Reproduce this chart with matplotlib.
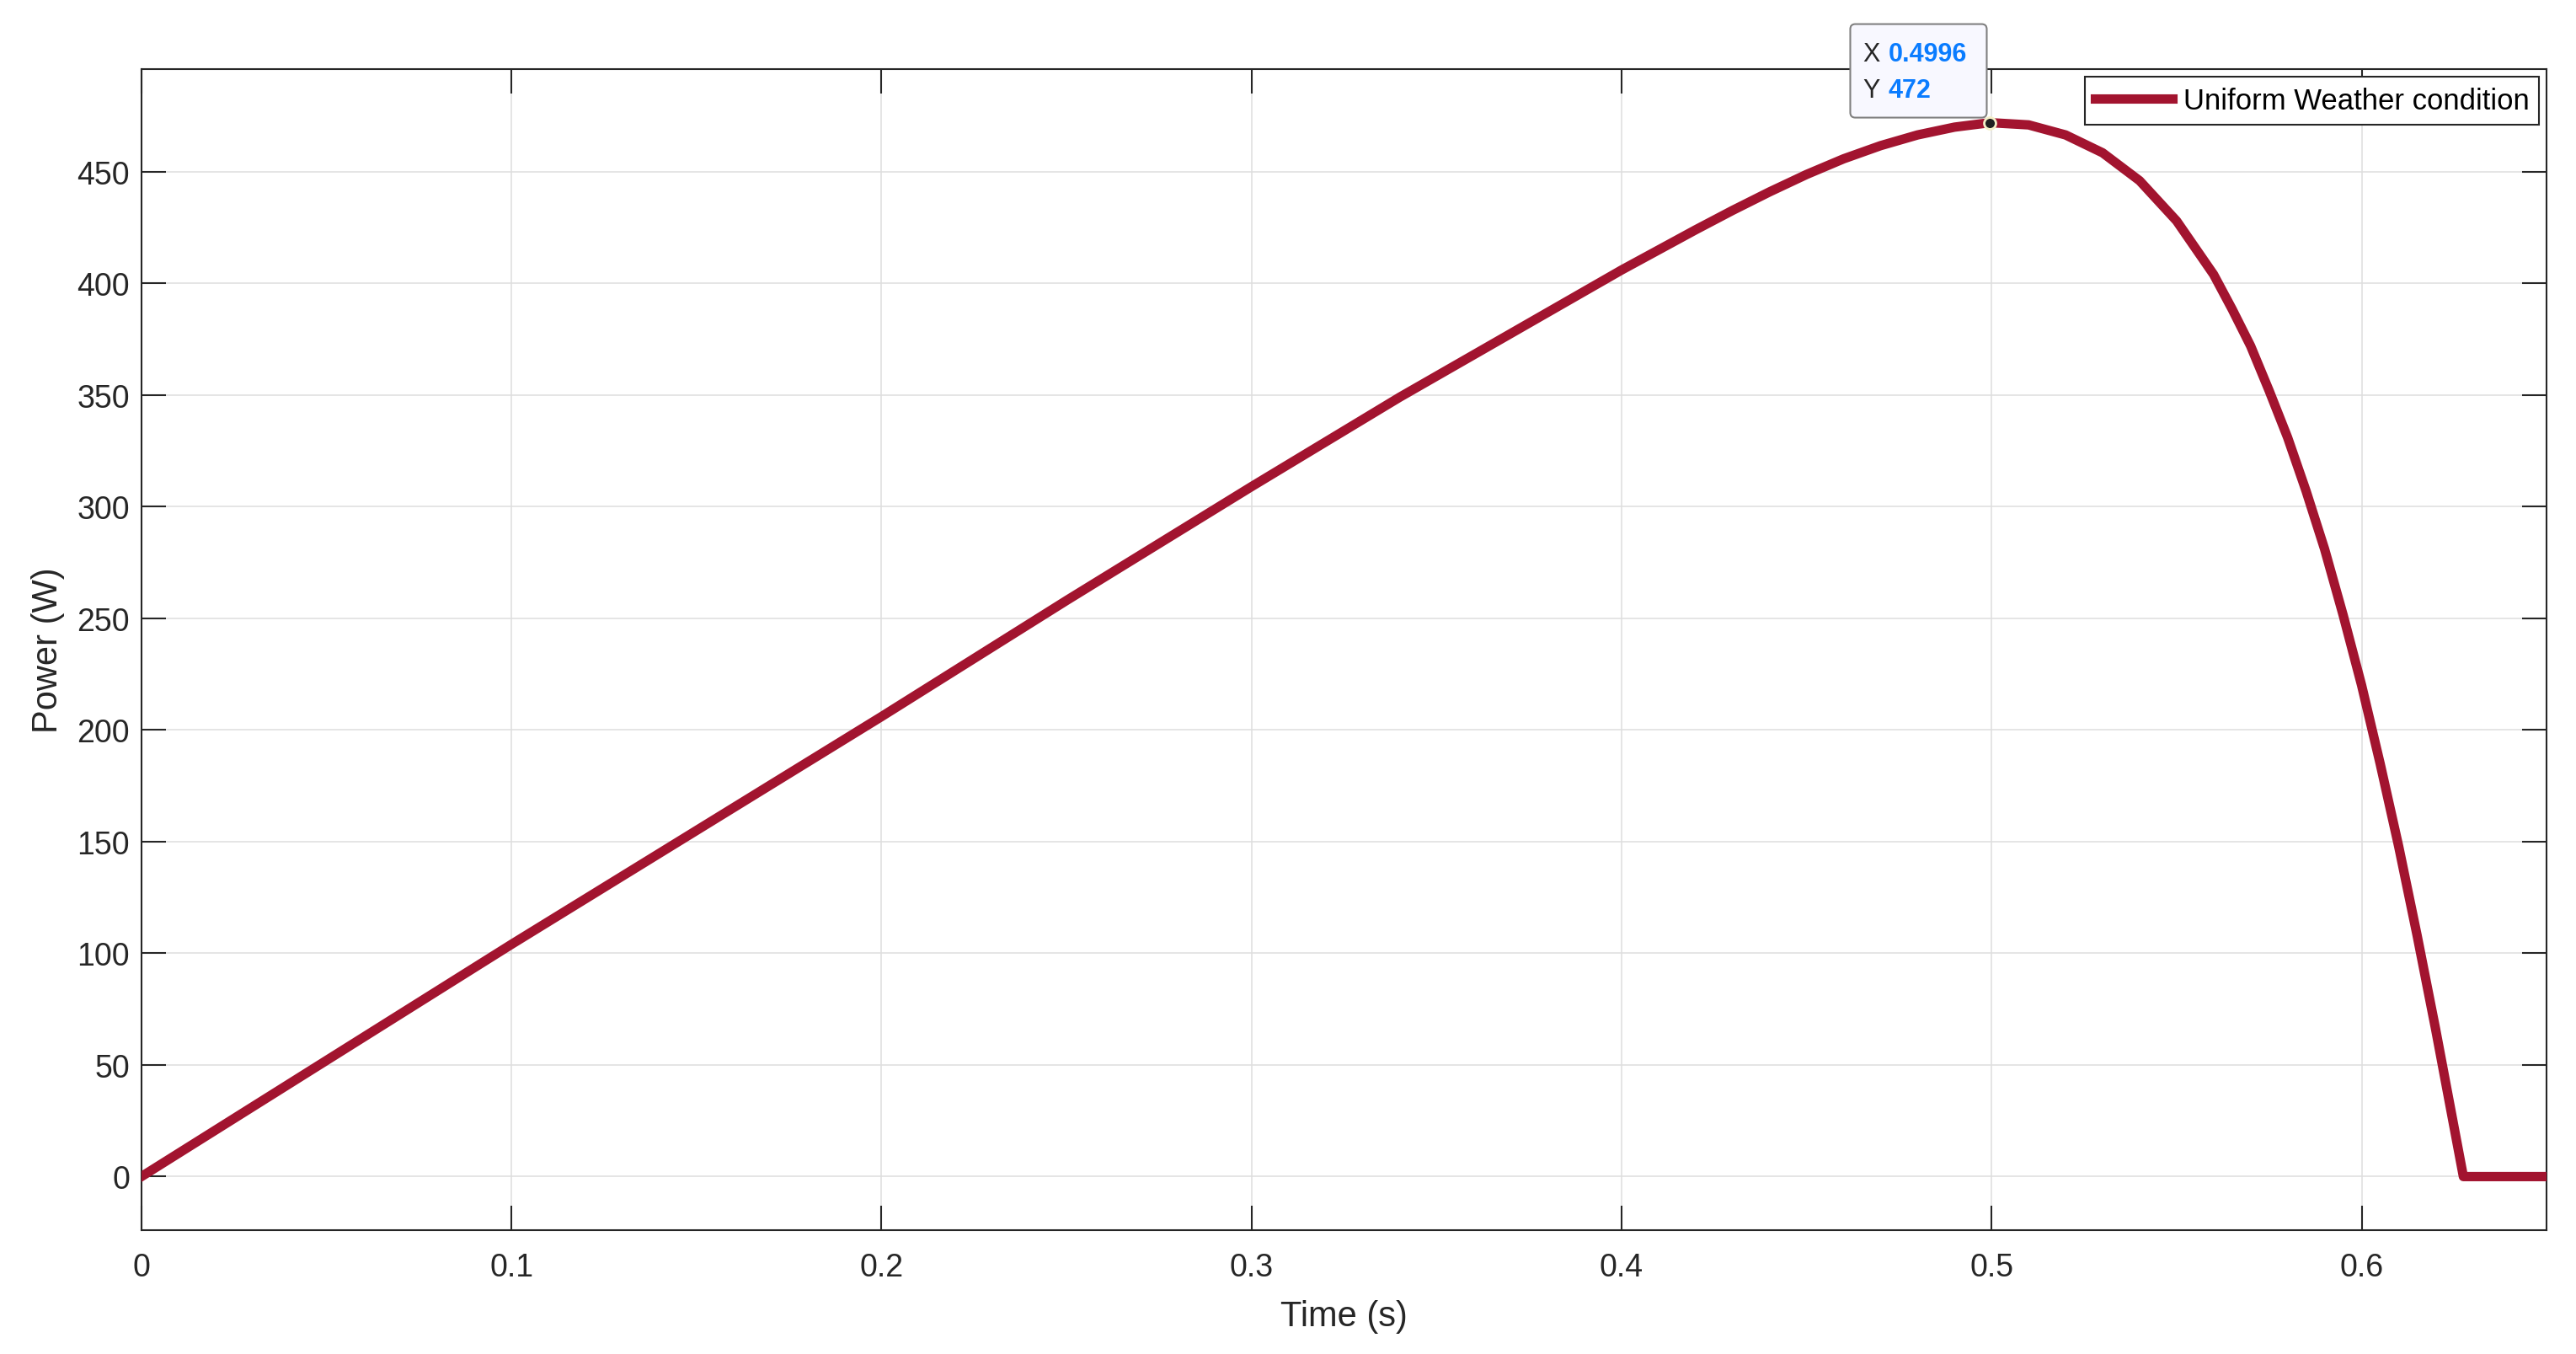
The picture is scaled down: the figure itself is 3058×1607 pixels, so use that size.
import matplotlib as mpl
mpl.use("Agg")
import matplotlib.pyplot as plt
from matplotlib.patches import FancyBboxPatch
from matplotlib.transforms import Affine2D, ScaledTranslation

# power curve (time in s, power in W)
time_s = [0.0, 0.05, 0.1, 0.15, 0.2, 0.25, 0.3, 0.31, 0.32, 0.33, 0.34,
          0.35, 0.36, 0.37, 0.38, 0.39, 0.4, 0.41, 0.42, 0.43, 0.44,
          0.45, 0.46, 0.47, 0.48, 0.49, 0.4996, 0.51, 0.52, 0.53, 0.54,
          0.55, 0.56, 0.565, 0.57, 0.575, 0.58, 0.585, 0.59, 0.595, 0.6,
          0.605, 0.61, 0.615, 0.62, 0.625, 0.6275, 0.65]
power_w = [0, 52, 104, 155, 206, 258, 309, 319, 329, 339, 349,
           358.5, 368, 377.5, 387, 396.5, 406, 415, 424, 432.7, 441,
           448.8, 455.8, 461.7, 466.5, 470, 472, 471, 466.5, 458.5, 446,
           428, 404, 388.5, 372, 352, 331, 307, 281, 251.5, 220,
           185, 148, 108, 66, 22, 0, 0]
peak_t = 0.4996
peak_p = 472
xticks = [0, 0.1, 0.2, 0.3, 0.4, 0.5, 0.6]
yticks = [0, 50, 100, 150, 200, 250, 300, 350, 400, 450]

plt.rcParams['font.family'] = ['Liberation Sans', 'DejaVu Sans']
dark = '#262626'
red = '#A2142F'

fig = plt.figure(figsize=(30.58, 16.08), dpi=100)
ax = fig.add_axes([0.0549, 0.0914, 0.9337, 0.857])

ax.plot(time_s, power_w, '-', c=red, lw=8, solid_joinstyle='round',
        label='Uniform Weather condition', zorder=5)

ax.set_xlim(0, 0.65)
ax.set_ylim(-24, 496)
ax.set_xticks(xticks)
ax.set_xticklabels(['0' if v == 0 else f'{v:g}' for v in xticks])
ax.set_yticks(yticks)
ax.grid(True, color='#DEDEDE', lw=1.1)
ax.set_axisbelow(True)
ax.tick_params(direction='in', length=21, width=1.5, colors=dark,
               labelsize=27, top=True, right=True)
ax.tick_params(axis='x', pad=19)
ax.tick_params(axis='y', pad=10)
for sp in ax.spines.values():
    sp.set_color(dark)
    sp.set_linewidth(1.5)

ax.set_xlabel('Time (s)', fontsize=30, color=dark, labelpad=14)
ax.set_ylabel('Power (W)', fontsize=30, color=dark, labelpad=10)

leg = ax.legend(loc='upper right', fontsize=25, fancybox=False,
                framealpha=1, edgecolor=dark, handlelength=2.65,
                handletextpad=0.35, borderpad=0.35, borderaxespad=0.25)
leg.get_frame().set_linewidth(1.5)

# data tip at the maximum power point, box sized in pixels
tip = Affine2D().translate(-166, 6) + \
    ScaledTranslation(peak_t, peak_p, ax.transData)
box = FancyBboxPatch((0, 0), 162, 111, transform=tip,
                     boxstyle='round,pad=0,rounding_size=6',
                     fc='#F8F8FF', ec='#808080', lw=1.5,
                     clip_on=False, zorder=20)
ax.add_patch(box)

ax.plot([peak_t], [peak_p], 'o', ms=10, mfc='#202020', mec='#F5F0C8',
        mew=2, zorder=21, clip_on=False)
for lab, val, dy in [('X', f'{peak_t:.4f}', 82), ('Y', f'{peak_p}', 39)]:
    ax.annotate(lab, (peak_t, peak_p), xytext=(-151, dy),
                textcoords='offset pixels', ha='left', va='center',
                fontsize=22, color=dark, zorder=22, annotation_clip=False)
    ax.annotate(val, (peak_t, peak_p), xytext=(-121, dy),
                textcoords='offset pixels', ha='left', va='center',
                fontsize=22, color='#0A7CFF', fontweight='bold',
                zorder=22, annotation_clip=False)

fig.savefig('out.png')
